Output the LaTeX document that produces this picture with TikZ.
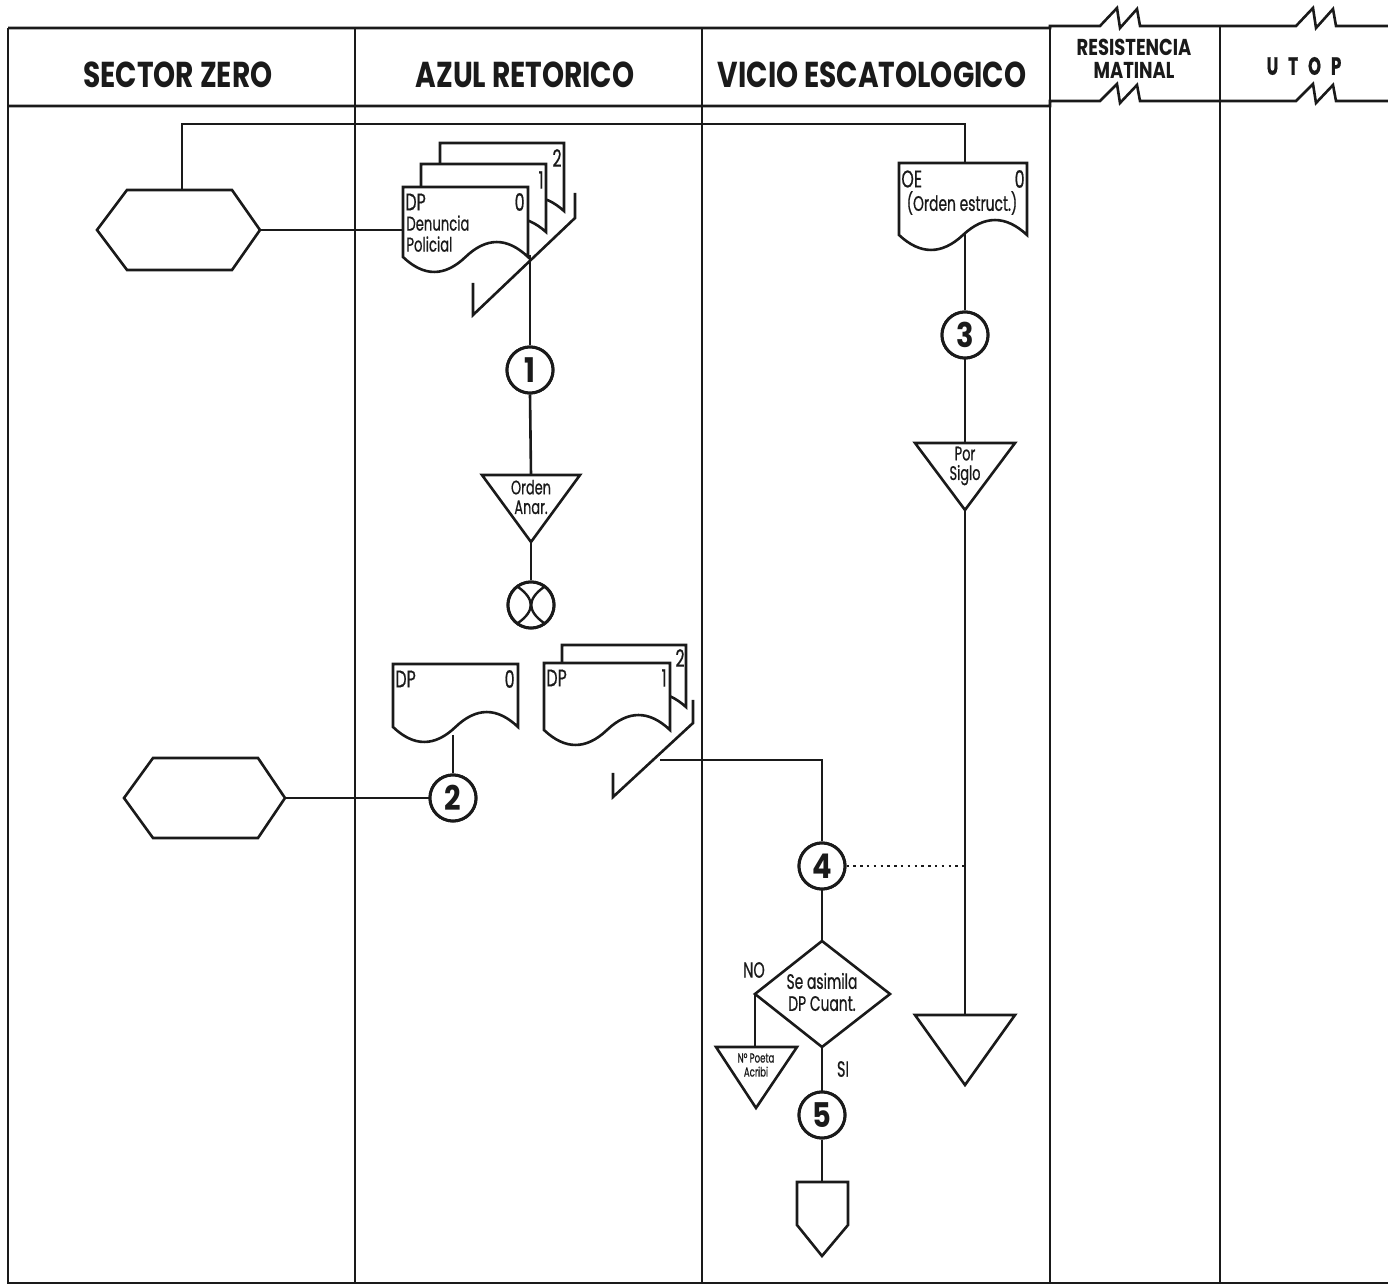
\documentclass[tikz,border=0pt]{standalone}
\usepackage{fontspec}
\setmainfont{Poppins}[FakeStretch=0.66, FakeBold=0.6]
\newfontfamily\hdrfont{Poppins}[FakeStretch=0.78]
\newfontfamily\numfont{Poppins}[FakeStretch=0.85]
\usetikzlibrary{calc}
\definecolor{ink}{HTML}{1A1A1A}
\newcommand\docpath[5]{%
  ({#1},{#2}) -- ({#1+#3},{#2}) -- ({#1+#3},{#2+#4})
  .. controls ({#1+#3*5/6},{#2+#4-1.33*#5}) and ({#1+#3*2/3},{#2+#4-1.33*#5}) .. ({#1+#3/2},{#2+#4})
  .. controls ({#1+#3/3},{#2+#4+1.33*#5}) and ({#1+#3/6},{#2+#4+1.33*#5}) .. ({#1},{#2+#4}) -- cycle}
\tikzset{
  frame/.style={draw=ink, line width=1.3pt},
  conn/.style={draw=ink, line width=1.3pt},
  shp/.style={draw=ink, line width=1.3pt, fill=white, line join=miter},
  numc/.style={circle, draw=ink, line width=1.5pt, fill=white, minimum size=23pt, inner sep=0pt,
    font=\numfont\fontsize{17}{17}\selectfont\bfseries, text=ink},
  hdr/.style={font=\hdrfont\fontsize{18}{18}\selectfont\bfseries, text=ink},
  lbl/.style={font=\fontsize{12}{12}\selectfont, text=ink, inner sep=0pt},
  small/.style={font=\fontsize{10.5}{11}\selectfont, text=ink, inner sep=0pt, align=center},
  trilbl/.style={font=\fontsize{9.8}{9.8}\selectfont, text=ink, inner sep=0pt, align=center},
  dotc/.style={draw=ink, line width=1.2pt, dash pattern=on 1.2pt off 2.2pt},
}
\begin{document}
\begin{tikzpicture}[x=0.5pt, y=-0.5pt]
\useasboundingbox (0,0) rectangle (1388,1288);
\fill[white] (0,0) rectangle (1388,1288);

% ---------- frame ----------
\draw[frame] (8,28) -- (1050,28) -- (1050,26) -- (1100,26) -- (1117,8) -- (1120,28) -- (1137,9) -- (1140,26)
  -- (1296,26) -- (1313,8) -- (1316,28) -- (1333,9) -- (1336,26) -- (1388,26);
\draw[frame] (8,106) -- (1050,106) -- (1050,101) -- (1100,101) -- (1117,84) -- (1120,103) -- (1137,85) -- (1140,101)
  -- (1296,101) -- (1313,84) -- (1316,103) -- (1333,85) -- (1336,101) -- (1388,101);
\draw[frame] (8,28) -- (8,1283) -- (1388,1283);
\draw[frame] (355,28) -- (355,1283);
\draw[frame] (702,28) -- (702,1283);
\draw[frame] (1050,26) -- (1050,1283);
\draw[frame] (1220,26) -- (1220,1283);

% ---------- headers ----------
\node[hdr] (h1) at (178,75) {SECTOR ZERO};
\node[hdr] (h2) at (525,75) {AZUL RETORICO};
\node[hdr] (h3) at (872,75) {VICIO ESCATOLOGICO};
\node[hdr, font=\hdrfont\fontsize{11.5}{11.5}\selectfont\bfseries, align=center] (h4) at (1134,59) {RESISTENCIA\\MATINAL};
\node[hdr, font=\fontsize{12.5}{12.5}\selectfont\bfseries] (h5) at (1304,66) {U\hspace{0.4em}T\hspace{0.4em}O\hspace{0.4em}P};

% ---------- named coordinates ----------
\coordinate (hexA-top) at (182,190);
\coordinate (hexA-right) at (260,230);
\coordinate (hexB-right) at (285,798);
\coordinate (docA-left) at (403,230);
\coordinate (docA-out) at (530,255);
\coordinate (triA-top) at (531,475);
\coordinate (triA-bot) at (531,542);
\coordinate (docB0-out) at (453,735);
\coordinate (chevB) at (660,760);
\coordinate (bend4) at (822,760);
\coordinate (bendTop1) at (182,124);
\coordinate (bendTop2) at (965,124);
\coordinate (docOE-top) at (965,163);
\coordinate (docOE-out) at (965,228);
\coordinate (triP-top) at (965,443);
\coordinate (triP-bot) at (965,510);
\coordinate (triBig-top) at (965,1015);
\coordinate (dot-end) at (965,866);
\coordinate (dia-top) at (822,941);
\coordinate (dia-left) at (755,994);
\coordinate (dia-bot) at (822,1047);
\coordinate (triS-top) at (755,1047);
\coordinate (off-top) at (822,1182);

% ---------- numbered circles (positions) ----------
\node[numc] (c1) at (530,370) {1};
\node[numc] (cx) at (531,605) {};
\node[numc] (c2) at (453,798) {2};
\node[numc] (c3) at (965,335) {3};
\node[numc] (c4) at (822,866) {4};
\node[numc] (c5) at (822,1115) {5};

% ---------- connectors ----------
\draw[conn] (hexA-top) -- (bendTop1) -- (bendTop2) -- (docOE-top);
\draw[conn] (hexA-right) -- (docA-left);
\draw[conn] (docA-out) -- (c1.north);
\draw[conn] (c1.south) -- (triA-top);
\draw[conn] (triA-bot) -- (cx.north);
\draw[conn] (docB0-out) -- (c2.north);
\draw[conn] (hexB-right) -- (c2.west);
\draw[conn] (chevB) -- (bend4) -- (c4.north);
\draw[conn] (docOE-out) -- (c3.north);
\draw[conn] (c3.south) -- (triP-top);
\draw[conn] (triP-bot) -- (triBig-top);
\draw[dotc] (c4.east) -- (dot-end);
\draw[conn] (c4.south) -- (dia-top);
\draw[conn] (dia-left) -- (triS-top);
\draw[conn] (dia-bot) -- (c5.north);
\draw[conn] (c5.south) -- (off-top);

% circles on top of connectors
\node[numc] at (c1) {1};
\node[numc] at (cx) {};
\draw[ink, line width=1.2pt] ($(cx)+(-13,-18)$) .. controls ($(cx)+(4,-6)$) and ($(cx)+(4,6)$) .. ($(cx)+(-13,18)$);
\draw[ink, line width=1.2pt] ($(cx)+(13,-18)$) .. controls ($(cx)+(-4,-6)$) and ($(cx)+(-4,6)$) .. ($(cx)+(13,18)$);
\node[numc] at (c2) {2};
\node[numc] at (c3) {3};
\node[numc] at (c4) {4};
\node[numc] at (c5) {5};

% ---------- hexagons ----------
\draw[shp] (97,230) -- (127,190) -- (232,190) -- (260,230) -- (232,270) -- (127,270) -- cycle;
\draw[shp] (124,798) -- (153,758) -- (258,758) -- (285,798) -- (258,838) -- (153,838) -- cycle;

% ---------- top stacked documents ----------
\draw[shp] \docpath{440}{143}{124}{68}{14};
\draw[shp] \docpath{421}{164}{125}{68}{14};
\draw[shp] \docpath{403}{187}{125}{70}{15};
\draw[shp, fill=none] (575,193) -- (575,218) -- (473,315) -- (473,283);
\node[lbl, anchor=west] (dA-dp) at (405,202) {DP};
\node[lbl, anchor=east] (dA-0) at (525,202) {0};
\node[lbl, anchor=east] (dA-1) at (544,180) {1};
\node[lbl, anchor=east] (dA-2) at (562,158) {2};
\node[small, anchor=north west, align=left, font=\fontsize{10}{10.5}\selectfont] (dA-t) at (406,215) {Denuncia\\Policial};

% ---------- triangle Orden Anar. ----------
\draw[shp] (482,475) -- (580,475) -- (531,542) -- cycle;
\node[trilbl] (tA) at (531,497) {Orden\\Anar.};

% ---------- second row documents ----------
\draw[shp] \docpath{562}{645}{124}{62}{14};
\draw[shp] \docpath{544}{663}{126}{67}{15};
\draw[shp] \docpath{393}{664}{125}{63}{15};
\draw[shp, fill=none] (693,700) -- (693,723) -- (613,797) -- (613,773);
\node[lbl, anchor=west] (dB0-dp) at (395,679) {DP};
\node[lbl, anchor=east] (dB0-0) at (515,679) {0};
\node[lbl, anchor=west] (dB1-dp) at (546,678) {DP};
\node[lbl, anchor=east] (dB1-1) at (667,678) {1};
\node[lbl, anchor=east] (dB2-2) at (685,658) {2};

% ---------- VICIO column ----------
\draw[shp] \docpath{899}{163}{128}{72}{15};
\node[lbl, anchor=west] (oe) at (901,179) {OE};
\node[lbl, anchor=east] (oe0) at (1025,179) {0};
\node[small, font=\fontsize{10.5}{10.5}\selectfont] (oet) at (962,203) {(Orden estruct.)};

\draw[shp] (915,443) -- (1015,443) -- (965,510) -- cycle;
\node[trilbl] (tP) at (965,466) {Por\\Siglo};
\draw[shp] (915,1015) -- (1015,1015) -- (965,1085) -- cycle;

\draw[shp] (822,941) -- (890,994) -- (822,1047) -- (755,994) -- cycle;
\node[small] (dia) at (822,992) {Se asimila\\DP Cuant.};
\node[small, font=\fontsize{11}{11}\selectfont] (no) at (754,970) {NO};
\node[small, font=\fontsize{11}{11}\selectfont] (si) at (843,1069) {SI};

\draw[shp] (716,1047) -- (797,1047) -- (756,1108) -- cycle;
\node[small, font=\fontsize{6.5}{7}\selectfont] (tS) at (756,1065) {Nº Poeta\\Acribi};

\draw[shp] (797,1182) -- (848,1182) -- (848,1225) -- (822,1256) -- (797,1225) -- cycle;
\end{tikzpicture}
\end{document}
